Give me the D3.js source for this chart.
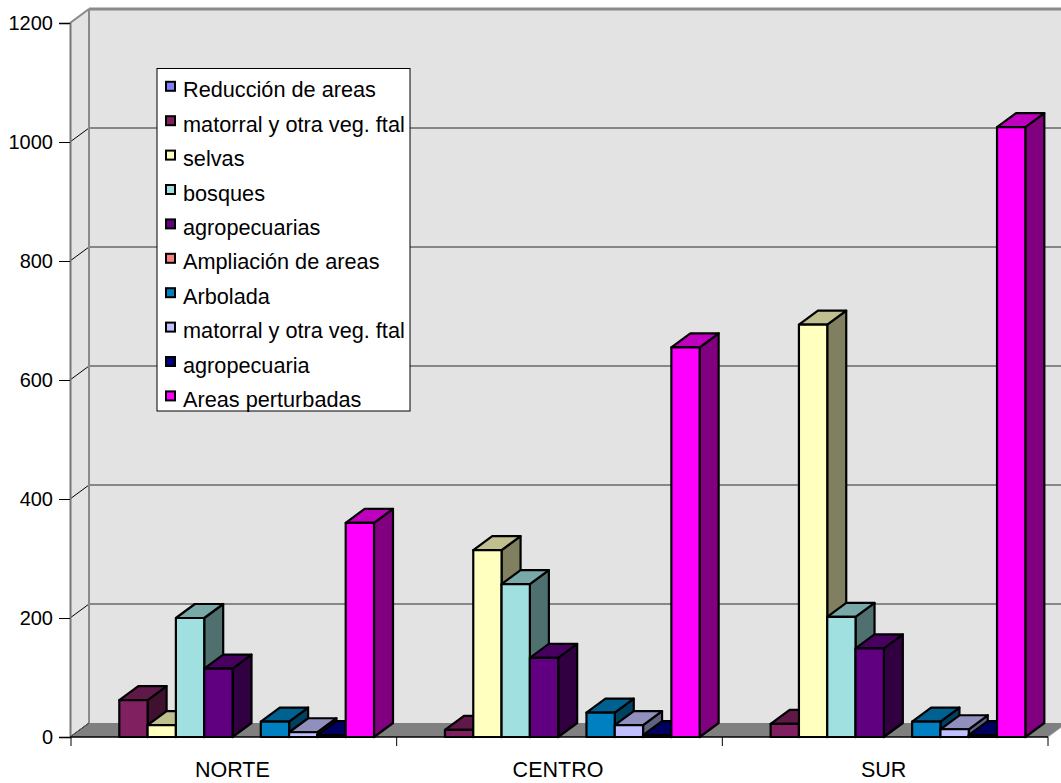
<!DOCTYPE html>
<html>
<head>
<meta charset="utf-8">
<script src="https://cdn.jsdelivr.net/npm/d3@7"></script>
<style>
  html, body { margin: 0; padding: 0; background: #ffffff; }
  svg { display: block; font-family: "Liberation Sans", Arial, sans-serif; }
</style>
</head>
<body>
<svg id="chart" width="1061" height="783"></svg>
<script>
// ---- data ----
const categories = ["NORTE", "CENTRO", "SUR"];
const seriesNames = [
  "Reducción de areas",
  "matorral y otra veg. ftal",
  "selvas",
  "bosques",
  "agropecuarias",
  "Ampliación de areas",
  "Arbolada",
  "matorral y otra veg. ftal",
  "agropecuaria",
  "Areas perturbadas"
];
const reduccion     = [0, 0, 0];
const matorral      = [62, 12, 22];
const selvas        = [20, 314, 693];
const bosques       = [200, 257, 202];
const agropecuarias = [115, 133, 149];
const ampliacion    = [0, 0, 0];
const arbolada      = [26, 41, 26];
const matorral2     = [8, 20, 13];
const agropecuaria  = [3, 3, 3];
const perturbadas   = [360, 655, 1025];
const yTicks = [0, 200, 400, 600, 800, 1000, 1200];

// ---- styles ----
const seriesColors = ["#8080FF", "#802060", "#FFFFC0", "#A0E0E0", "#600080",
                      "#FF8080", "#0080C0", "#C0C0FF", "#000080", "#FF00FF"];

const seriesValues = [reduccion, matorral, selvas, bosques, agropecuarias,
                      ampliacion, arbolada, matorral2, agropecuaria, perturbadas];

const svg = d3.select("#chart");
const W = 1061, H = 783;

const frontLeft = 70, frontRight = 1048;
const DX = 19, DY = 14;   // 3D depth offset

const y = d3.scaleLinear().domain([0, 1200]).range([737, 23]);
const x0 = d3.scaleBand().domain(categories).range([71, 1048]).padding(0);
const x1 = d3.scaleBand().domain(d3.range(seriesNames.length)).range([20, 303]).padding(0);

const wallFill = "#e3e3e3";
const base = y(0);

// back wall
svg.append("rect")
  .attr("x", frontLeft + DX).attr("y", y(1200) - DY)
  .attr("width", W - (frontLeft + DX) + 5).attr("height", base - DY - (y(1200) - DY))
  .attr("fill", wallFill);

// side wall
svg.append("polygon")
  .attr("points", [[frontLeft, y(1200)], [frontLeft + DX, y(1200) - DY],
                   [frontLeft + DX, base - DY], [frontLeft, base]].map(p => p.join(",")).join(" "))
  .attr("fill", wallFill);

// floor
svg.append("polygon")
  .attr("points", [[frontLeft, base], [frontRight, base],
                   [frontRight + DX, base - DY], [frontLeft + DX, base - DY]].map(p => p.join(",")).join(" "))
  .attr("fill", "#808080");

// gridlines on back wall and diagonals on side wall
const gridG = svg.append("g");
yTicks.filter(t => t > 0 && t < 1200).forEach(t => {
  gridG.append("line")
    .attr("x1", frontLeft + DX).attr("x2", W)
    .attr("y1", y(t) - DY).attr("y2", y(t) - DY)
    .attr("stroke", "#2a2a2a").attr("stroke-width", 1);
});
yTicks.forEach(t => {
  gridG.append("line")
    .attr("x1", frontLeft).attr("y1", y(t))
    .attr("x2", frontLeft + DX).attr("y2", y(t) - DY)
    .attr("stroke", "#000").attr("stroke-width", 1);
});

// wall borders
const borderG = svg.append("g").attr("fill", "none").attr("stroke", "#8a8a8a").attr("stroke-width", 2);
borderG.append("line").attr("x1", frontLeft + DX).attr("x2", frontLeft + DX)
  .attr("y1", y(1200) - DY).attr("y2", base - DY);
borderG.append("line").attr("x1", frontLeft + DX).attr("x2", W)
  .attr("y1", y(1200) - DY).attr("y2", y(1200) - DY).attr("stroke-width", 3);
borderG.append("line").attr("x1", frontLeft).attr("y1", y(1200))
  .attr("x2", frontLeft + DX).attr("y2", y(1200) - DY);
borderG.append("line").attr("x1", frontLeft + DX).attr("y1", base - DY)
  .attr("x2", frontLeft).attr("y2", base).attr("stroke", "#555").attr("stroke-width", 1);
borderG.append("line").attr("x1", frontRight).attr("y1", base)
  .attr("x2", frontRight + DX).attr("y2", base - DY).attr("stroke", "#aaa").attr("stroke-width", 1);

// ---- bars ----
const shade = (c, k) => { const r = d3.rgb(c); return d3.rgb(r.r * k, r.g * k, r.b * k).toString(); };
const barsG = svg.append("g").attr("stroke", "#000").attr("stroke-width", 2.2).attr("stroke-linejoin", "round");
categories.forEach((cat, ci) => {
  seriesValues.forEach((vals, si) => {
    const v = vals[ci];
    if (!(v > 0)) return;
    const xl = x0(cat) + x1(si);
    const w = x1.bandwidth();
    const yt = y(v);
    const col = seriesColors[si];
    const g = barsG.append("g");
    g.append("polygon")
      .attr("points", [[xl + w, yt], [xl + w + DX, yt - DY], [xl + w + DX, base - DY], [xl + w, base]]
        .map(p => p.join(",")).join(" "))
      .attr("fill", shade(col, 0.5));
    g.append("polygon")
      .attr("points", [[xl, yt], [xl + DX, yt - DY], [xl + w + DX, yt - DY], [xl + w, yt]]
        .map(p => p.join(",")).join(" "))
      .attr("fill", shade(col, 0.75));
    g.append("rect")
      .attr("x", xl).attr("y", yt).attr("width", w).attr("height", base - yt)
      .attr("fill", col);
  });
});

// ---- axes ----
const yAxis = d3.axisLeft(y).tickValues(yTicks).tickSize(11).tickPadding(6).tickFormat(d3.format("d"));
const yG = svg.append("g").attr("transform", `translate(${frontLeft},0)`).call(yAxis);
yG.select(".domain").attr("stroke", "#777").attr("stroke-width", 2);
yG.selectAll(".tick line").attr("stroke", "#000");
yG.selectAll(".tick text").attr("font-size", 20).attr("fill", "#000")
  .attr("font-family", "'Liberation Sans', Arial, sans-serif");

// x axis line + boundary ticks
const xG = svg.append("g");
xG.append("line").attr("x1", frontLeft).attr("x2", frontRight)
  .attr("y1", base).attr("y2", base).attr("stroke", "#000").attr("stroke-width", 1.5);
const bounds = categories.map(c => x0(c)).concat([x0.range()[1]]);
xG.selectAll(".btick").data(bounds).join("line")
  .attr("x1", d => d).attr("x2", d => d)
  .attr("y1", base).attr("y2", base + 9)
  .attr("stroke", "#000").attr("stroke-width", 1);
xG.selectAll(".clabel").data(categories).join("text")
  .attr("x", d => x0(d) + x0.bandwidth() / 2 - 1.5)
  .attr("y", 777)
  .attr("text-anchor", "middle")
  .attr("font-size", 21.5)
  .attr("fill", "#000")
  .text(d => d);

// ---- legend ----
const leg = svg.append("g");
leg.append("rect").attr("x", 157).attr("y", 68.5).attr("width", 253).attr("height", 342.5)
  .attr("fill", "#fff").attr("stroke", "#000").attr("stroke-width", 1);
seriesNames.forEach((name, i) => {
  const by = 97.3 + i * 34.4;
  leg.append("rect").attr("x", 166).attr("y", by - 15.5).attr("width", 9).attr("height", 9)
    .attr("fill", seriesColors[i]).attr("stroke", "#000").attr("stroke-width", 2);
  leg.append("text").attr("x", 183).attr("y", by)
    .attr("font-size", 21.7).attr("fill", "#000").text(name);
});
</script>
</body>
</html>
